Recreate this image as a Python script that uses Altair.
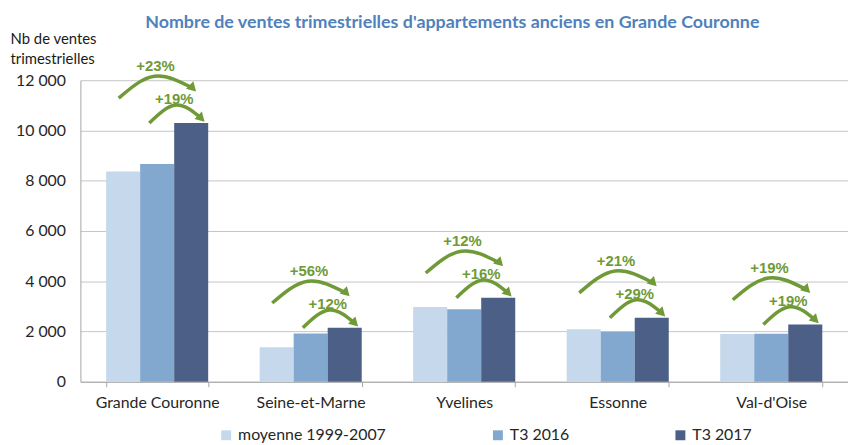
import altair as alt
import pandas as pd

# ---- data ----
categories = ["Grande Couronne", "Seine-et-Marne", "Yvelines", "Essonne", "Val-d'Oise"]
series_names = ["moyenne 1999-2007", "T3 2016", "T3 2017"]
moyenne_1999_2007 = [8370, 1370, 2970, 2090, 1900]
t3_2016 = [8670, 1920, 2880, 1985, 1905]
t3_2017 = [10300, 2145, 3340, 2550, 2275]
evol_vs_moyenne = ["+23%", "+56%", "+12%", "+21%", "+19%"]
evol_vs_2016 = ["+19%", "+12%", "+16%", "+29%", "+19%"]
y_ticks = [0, 2000, 4000, 6000, 8000, 10000, 12000]

# ---- styling ----
colors = ["#C6D9EC", "#82A8CF", "#4B5F87"]
GREEN = "#6F9A37"
W, H = 774, 304
YMAX = 12000
PX = YMAX / H  # data units per pixel of height

# arrow shapes: (offset in bar widths inside the group, pixels above the T3 2017 bar)
BIG_ARC = [(0.37, 25), (1.42, 47), (2.55, 35)]
SMALL_ARC = [(1.27, 0), (2.05, 18), (2.8, 4.5)]
BIG_LABEL = (1.45, 57)
SMALL_LABEL = (2.0, 24)

bars = pd.DataFrame({
    "categorie": categories * 3,
    "serie": [s for s in series_names for _ in categories],
    "valeur": moyenne_1999_2007 + t3_2016 + t3_2017,
})

arc_rows, head_rows, label_rows = [], [], []
for i, cat in enumerate(categories):
    top = t3_2017[i]
    for name, shape in (("big", BIG_ARC), ("small", SMALL_ARC)):
        for k, (pos, dy) in enumerate(shape):
            arc_rows.append({"categorie": cat, "fleche": f"{cat}-{name}", "ordre": k,
                             "pos": pos, "y": top + dy * PX})
        pos, dy = shape[-1]
        head_rows.append({"categorie": cat, "pos": pos, "y": top + dy * PX})
    for txt, (pos, dy) in ((evol_vs_moyenne[i], BIG_LABEL), (evol_vs_2016[i], SMALL_LABEL)):
        label_rows.append({"categorie": cat, "texte": txt, "pos": pos, "y": top + dy * PX})

arcs_df = pd.DataFrame(arc_rows)
heads_df = pd.DataFrame(head_rows)
labels_df = pd.DataFrame(label_rows)

x_axis = alt.Axis(labelAngle=0, labelFontSize=16, labelColor="#262626", labelPadding=8,
                  tickBand="extent", tickSize=5, tickColor="#A6A6A6", domainColor="#A6A6A6",
                  grid=False, title=None)
x_scale = alt.Scale(paddingInner=0.335, paddingOuter=0.1675)
y_axis = alt.Axis(values=y_ticks, labelExpr="replace(format(datum.value, ','), ',', ' ')",
                  title=["Nb de ventes", "trimestrielles"], titleAngle=0, titleX=-71, titleY=-37,
                  titleAlign="left", titleBaseline="alphabetic", titleFontWeight="normal",
                  titleFontSize=15, titleColor="#1a1a1a", titleLineHeight=20,
                  ticks=False, labelFontSize=16, labelColor="#262626", labelPadding=15,
                  domainColor="#A6A6A6", gridColor="#C4C4C4")
y_scale = alt.Scale(domain=[0, YMAX], nice=False)

def X():
    return alt.X("categorie:N", sort=categories, scale=x_scale, axis=x_axis)

def Y(field):
    return alt.Y(field, scale=y_scale, axis=y_axis)

off_q = alt.XOffset("pos:Q", scale=alt.Scale(domain=[0, 3]))

bar_layer = alt.Chart(bars).mark_bar().encode(
    x=X(),
    xOffset=alt.XOffset("serie:N", sort=series_names, scale=alt.Scale(paddingInner=0, paddingOuter=0)),
    y=Y("valeur:Q"),
    color=alt.Color("serie:N", sort=series_names,
                    scale=alt.Scale(domain=series_names, range=colors),
                    legend=alt.Legend(title=None, orient="none", legendX=139, legendY=350,
                                      direction="horizontal", columns=3, symbolType="square",
                                      symbolSize=100, symbolStrokeWidth=0, symbolOpacity=1,
                                      labelFontSize=16, labelColor="#262626", columnPadding=104,
                                      labelOffset=4, padding=0)),
)

arc_layer = alt.Chart(arcs_df).mark_line(interpolate="natural", strokeWidth=3.5, color=GREEN).encode(
    x=X(), xOffset=off_q, y=Y("y:Q"), detail="fleche:N", order="ordre:Q"
)

head_layer = alt.Chart(heads_df).mark_point(shape="triangle-right", filled=True, size=110, angle=45,
                                            color=GREEN, opacity=1).encode(
    x=X(), xOffset=off_q, y=Y("y:Q")
)

label_layer = alt.Chart(labels_df).mark_text(font="Liberation Sans", fontWeight="bold", fontSize=15,
                                             color=GREEN).encode(
    x=X(), xOffset=off_q, y=Y("y:Q"), text="texte:N"
)

chart = alt.layer(bar_layer, arc_layer, head_layer, label_layer).resolve_scale(
    xOffset="independent"
).properties(
    width=W, height=H,
    padding={"left": 73, "top": 71, "right": 0, "bottom": 66},
    autosize=alt.AutoSizeParams(type="none"),
    title=alt.TitleParams(text="Nombre de ventes trimestrielles d'appartements anciens en Grande Couronne",
                          fontSize=18, fontWeight="bold", color="#4F81BD", anchor="middle", dx=-12,
                          dy=4),
).configure(font="Lato").configure_view(stroke=None)

chart.save("out.html", embed_options={"renderer": "svg", "actions": False})
